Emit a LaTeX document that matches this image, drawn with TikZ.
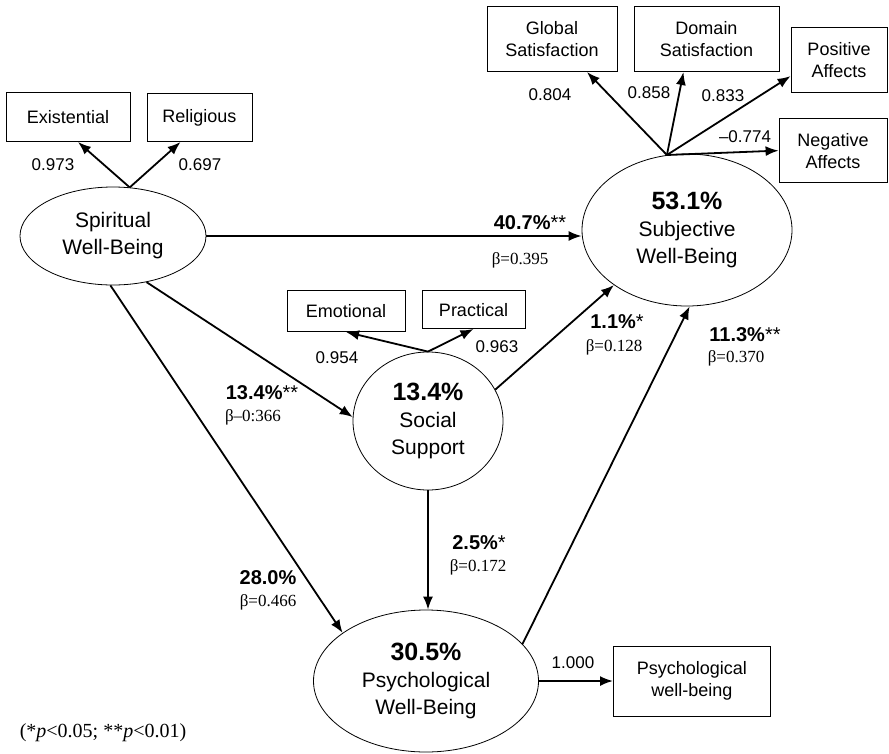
\documentclass[tikz,border=0pt]{standalone}
\usepackage{fontspec}
\setmainfont{Liberation Sans}
\newfontfamily\timesfont{Liberation Serif}
\usetikzlibrary{positioning,shapes.geometric,arrows.meta}
\newcommand{\bigpct}[1]{{\fontsize{25}{27}\selectfont\bfseries #1}}

\begin{document}
\begin{tikzpicture}[x=1pt,y=-1pt,
    lat/.style={ellipse,draw,line width=0.8pt,inner sep=0pt,align=center,font=\fontsize{21}{27}\selectfont},
    obs/.style={rectangle,draw,line width=0.8pt,inner sep=0pt,align=center,font=\fontsize{18}{22}\selectfont}]
    \tikzstyle{arr} = [line width=1.8pt,-{Latex[length=13pt,width=10pt]}]
    \tikzstyle{load} = [font=\fontsize{17}{19}\selectfont]
    \tikzstyle{pct} = [font=\fontsize{20}{22}\selectfont]
    \tikzstyle{beta} = [font=\timesfont\fontsize{17}{19}\selectfont]
    \tikzstyle{note} = [font=\timesfont\fontsize{20}{22}\selectfont]
        \useasboundingbox (0,0) rectangle (889,753);
        % latent variables
        \node[lat,minimum width=186pt,minimum height=98pt] (sp) at (113,236) {Spiritual\\Well-Being};
        \node[lat,minimum width=210pt,minimum height=152pt] (sub) at (687,230) {\bigpct{53.1\%}\\Subjective\\Well-Being};
        \node[lat,minimum width=150pt,minimum height=138pt] (soc) at (428,421) {\bigpct{13.4\%}\\Social\\Support};
        \node[lat,minimum width=225pt,minimum height=142pt] (psy) at (426,681) {\bigpct{30.5\%}\\Psychological\\Well-Being};
        % indicators
        \node[obs,above=94pt,xshift=-45pt,minimum width=124pt,minimum height=49pt] (ex) at (sp) {Existential};
        \node[obs,above=94pt,xshift=86.5pt,minimum width=105pt,minimum height=48pt] (rel) at (sp) {Religious};
        \node[obs,above=158pt,xshift=-135pt,minimum width=130pt,minimum height=65pt] (glob) at (sub) {Global\\Satisfaction};
        \node[obs,above=158pt,xshift=19.5pt,minimum width=145pt,minimum height=65pt] (dom) at (sub) {Domain\\Satisfaction};
        \node[obs,above=137pt,xshift=152pt,minimum width=96pt,minimum height=65pt] (pos) at (sub) {Positive\\Affects};
        \node[obs,above=47pt,xshift=146pt,minimum width=108pt,minimum height=64pt] (neg) at (sub) {Negative\\Affects};
        \node[obs,above=89pt,xshift=-82pt,minimum width=118pt,minimum height=41pt] (emo) at (soc) {Emotional};
        \node[obs,above=92pt,xshift=45.5pt,minimum width=103pt,minimum height=38pt] (prac) at (soc) {Practical};
        \node[obs,right=187pt,minimum width=157pt,minimum height=70pt] (pwb) at (psy) {Psychological\\well-being};
        % loadings
        \draw[arr] (sp.71) -- ([xshift=10pt]ex.south);
        \draw[arr] (sp.71) -- ([xshift=-19pt]rel.south);
        \draw[arr] (sub.105) -- ([xshift=35pt]glob.south);
        \draw[arr] (sub.105) -- ([xshift=-23pt]dom.south);
        \draw[arr] (sub.105) -- ([yshift=-16pt]pos.west);
        \draw[arr] (sub.105) -- (neg.west);
        \draw[arr] (soc.north) -- (emo.south);
        \draw[arr] (soc.north) -- (prac.south);
        \draw[arr] (psy.east) -- (pwb.west);
        \node[load] (lex) at (53,165) {0.973};
        \node[load] (lrel) at (200,165) {0.697};
        \node[load] (lglob) at (550,95) {0.804};
        \node[load] (ldom) at (649,93) {0.858};
        \node[load] (lpos) at (723,96) {0.833};
        \node[load] (lneg) at (745,137) {--0.774};
        \node[load] (lemo) at (337,358) {0.954};
        \node[load] (lprac) at (497,347) {0.963};
        \node[load] (lpwb) at (573,663) {1.000};
        % paths
        \draw[arr] (sp.east) -- (sp.east -| sub.west);
        \draw[arr] (sp.-54) -- (soc.177);
        \draw[arr] (sp.-93) -- (psy.150);
        \draw[arr] (soc.25) -- (sub.217);
        \draw[arr] (soc.south) -- (soc.south |- psy.north);
        \draw[arr] (psy.21) -- (sub.-88);
        \node[pct] (psub) at (530,223) {\textbf{40.7\%}**};
        \node[beta] (bsub) at (520,260) {β=0.395};
        \node[pct] (psoc) at (262,393) {\textbf{13.4\%}**};
        \node[beta] (bsoc) at (253,417) {β–0:366};
        \node[pct] (ppsy) at (268,578) {\textbf{28.0\%}};
        \node[beta] (bpsy) at (268,602) {β=0.466};
        \node[pct] (psp) at (479,543) {\textbf{2.5\%}*};
        \node[beta] (bsp) at (478,567) {β=0.172};
        \node[pct] (pss) at (617,322) {\textbf{1.1\%}*};
        \node[beta] (bss) at (614,347) {β=0.128};
        \node[pct] (pps) at (745,335) {\textbf{11.3\%}**};
        \node[beta] (bps) at (736,358) {β=0.370};
        % key
        \node[note] (key) at (103,733) {(*\textit{p}<0.05; **\textit{p}<0.01)};
    \end{tikzpicture}
\end{document}
